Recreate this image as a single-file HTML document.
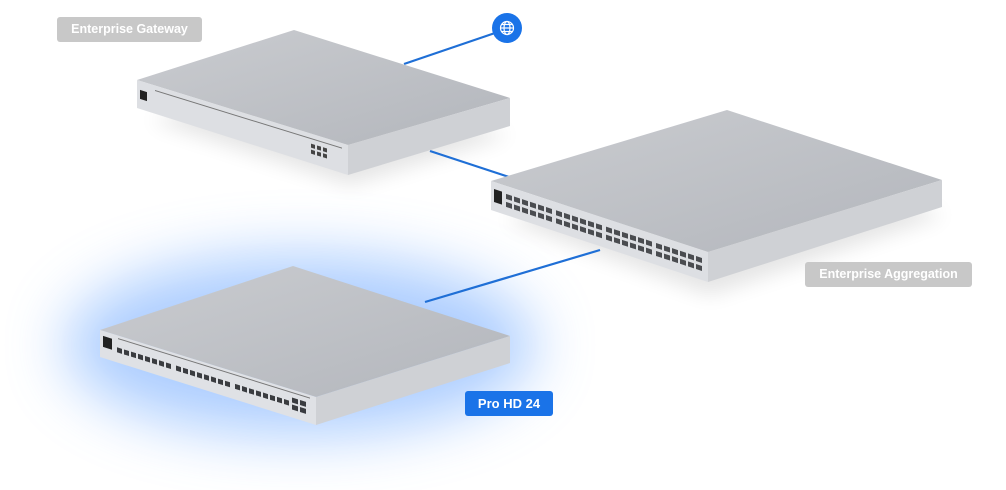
<!DOCTYPE html>
<html><head><meta charset="utf-8"><style>
html,body{margin:0;padding:0;background:#fff;}
.lbl{position:absolute;font-family:"Liberation Sans",sans-serif;font-size:12.5px;font-weight:bold;color:#fff;border-radius:3px;text-align:center;}
</style></head><body>
<div style="position:relative;width:1006px;height:490px;overflow:hidden;background:#fff;">
<svg width="1006" height="490" style="position:absolute;left:0;top:0">
<defs>
<filter id="b30" x="-50%" y="-50%" width="200%" height="200%"><feGaussianBlur stdDeviation="30"/></filter>
<filter id="b10" x="-50%" y="-50%" width="200%" height="200%"><feGaussianBlur stdDeviation="10"/></filter>
<linearGradient id="top" x1="0" y1="0" x2="1" y2="1"><stop offset="0" stop-color="#caccd0"/><stop offset="1" stop-color="#b3b6bc"/></linearGradient>
</defs>
<!-- glow -->
<ellipse cx="300" cy="345" rx="235" ry="90" fill="#5a9cff" opacity="0.5" filter="url(#b30)"/>
<!-- shadows -->
<polygon points="150,120 350,185 510,135 300,80" fill="#000" opacity="0.1" filter="url(#b10)"/>
<polygon points="505,220 710,295 945,215 730,150" fill="#000" opacity="0.1" filter="url(#b10)"/>
<!-- lines -->
<g stroke="#1f6fd6" stroke-width="2.2">
<line x1="404" y1="64" x2="495" y2="33"/>
<line x1="430" y1="151" x2="515" y2="179"/>
<line x1="425" y1="302" x2="600" y2="250"/>
</g>
<circle cx="507" cy="28" r="15" fill="#1a73e8"/>
<g stroke="#fff" stroke-width="1.2" fill="none"><circle cx="507" cy="28" r="6.5"/><ellipse cx="507" cy="28" rx="3" ry="6.5"/><line x1="500.5" y1="28" x2="513.5" y2="28"/><line x1="502" y1="24.5" x2="512" y2="24.5"/><line x1="502" y1="31.5" x2="512" y2="31.5"/></g>

<!-- Gateway -->
<polygon points="137,80 294,30 510,98 348,145" fill="url(#top)"/>
<polygon points="348,145 510,98 510,126 348,175" fill="#cfd1d5"/>
<polygon points="137,80 348,145 348,175 137,108" fill="#dddfe3"/>
<g transform="matrix(1,0.308,0,1,137,80)">
<rect x="3" y="9" width="7" height="9" fill="#222"/>
<line x1="18" y1="5" x2="205" y2="5" stroke="#777" stroke-width="1"/>
<rect x="174" y="10" width="4" height="4" fill="#444"/><rect x="180" y="10" width="4" height="4" fill="#444"/><rect x="186" y="10" width="4" height="4" fill="#444"/>
<rect x="174" y="16" width="4" height="4" fill="#444"/><rect x="180" y="16" width="4" height="4" fill="#444"/><rect x="186" y="16" width="4" height="4" fill="#444"/>
</g>
<!-- Aggregation -->
<polygon points="491,181 727,110 942,180 708,252" fill="url(#top)"/>
<polygon points="708,252 942,180 942,207 708,282" fill="#cfd1d5"/>
<polygon points="491,181 708,252 708,282 491,210" fill="#dddfe3"/>
<g transform="matrix(1,0.327,0,1,491,181)" fill="#4a4c50">
<rect x="3" y="7" width="8" height="13" fill="#222"/>
<g id="agrow">
<rect x="15" y="8" width="6" height="5"/><rect x="23" y="8" width="6" height="5"/><rect x="31" y="8" width="6" height="5"/><rect x="39" y="8" width="6" height="5"/><rect x="47" y="8" width="6" height="5"/><rect x="55" y="8" width="6" height="5"/>
<rect x="65" y="8" width="6" height="5"/><rect x="73" y="8" width="6" height="5"/><rect x="81" y="8" width="6" height="5"/><rect x="89" y="8" width="6" height="5"/><rect x="97" y="8" width="6" height="5"/><rect x="105" y="8" width="6" height="5"/>
<rect x="115" y="8" width="6" height="5"/><rect x="123" y="8" width="6" height="5"/><rect x="131" y="8" width="6" height="5"/><rect x="139" y="8" width="6" height="5"/><rect x="147" y="8" width="6" height="5"/><rect x="155" y="8" width="6" height="5"/>
<rect x="165" y="8" width="6" height="5"/><rect x="173" y="8" width="6" height="5"/><rect x="181" y="8" width="6" height="5"/><rect x="189" y="8" width="6" height="5"/><rect x="197" y="8" width="6" height="5"/><rect x="205" y="8" width="6" height="5"/>
</g>
<use href="#agrow" y="8"/>
</g>
<!-- Pro HD 24 -->
<polygon points="100,330 293,266 510,336 316,397" fill="url(#top)"/>
<polygon points="316,397 510,336 510,363 316,425" fill="#cfd1d5"/>
<polygon points="100,330 316,397 316,425 100,357" fill="#dfe1e5"/>
<g transform="matrix(1,0.31,0,1,100,330)" fill="#3a3c40">
<rect x="3" y="5" width="9" height="11" fill="#222"/>
<line x1="18" y1="3" x2="210" y2="3" stroke="#777" stroke-width="1"/>
<rect x="17" y="12" width="5" height="5"/><rect x="24" y="12" width="5" height="5"/><rect x="31" y="12" width="5" height="5"/><rect x="38" y="12" width="5" height="5"/><rect x="45" y="12" width="5" height="5"/><rect x="52" y="12" width="5" height="5"/><rect x="59" y="12" width="5" height="5"/><rect x="66" y="12" width="5" height="5"/>
<rect x="76" y="12" width="5" height="5"/><rect x="83" y="12" width="5" height="5"/><rect x="90" y="12" width="5" height="5"/><rect x="97" y="12" width="5" height="5"/><rect x="104" y="12" width="5" height="5"/><rect x="111" y="12" width="5" height="5"/><rect x="118" y="12" width="5" height="5"/><rect x="125" y="12" width="5" height="5"/>
<rect x="135" y="12" width="5" height="5"/><rect x="142" y="12" width="5" height="5"/><rect x="149" y="12" width="5" height="5"/><rect x="156" y="12" width="5" height="5"/><rect x="163" y="12" width="5" height="5"/><rect x="170" y="12" width="5" height="5"/><rect x="177" y="12" width="5" height="5"/><rect x="184" y="12" width="5" height="5"/>
<rect x="192" y="8" width="6" height="5"/><rect x="200" y="8" width="6" height="5"/><rect x="192" y="15" width="6" height="5"/><rect x="200" y="15" width="6" height="5"/>
</g>
</svg>
<div class="lbl" style="left:57px;top:17px;width:145px;height:25px;line-height:25px;background:#c8c8c8;">Enterprise Gateway</div>
<div class="lbl" style="left:805px;top:262px;width:167px;height:25px;line-height:25px;background:#c8c8c8;">Enterprise Aggregation</div>
<div class="lbl" style="left:465px;top:391px;width:88px;height:25px;line-height:25px;background:#1a73e8;font-size:13px;">Pro HD 24</div>
</div>
</body></html>
